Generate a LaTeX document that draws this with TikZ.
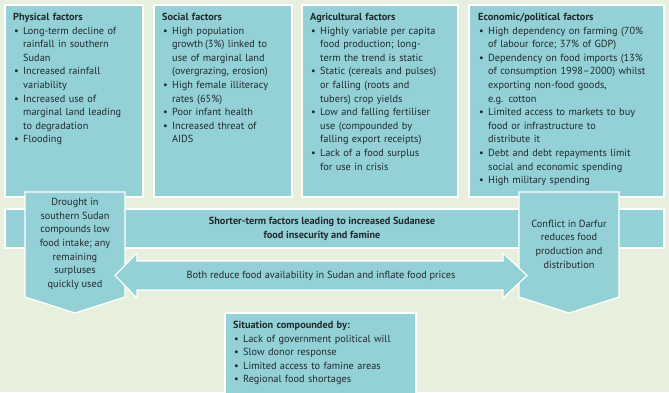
\documentclass[tikz,border=0pt]{standalone}
\usepackage{fontspec}
\setmainfont{PT Sans}
\usepackage{enumitem}
\usetikzlibrary{positioning}
\definecolor{sTeal}{HTML}{93D1D6}
\definecolor{sBg}{HTML}{E6F0DD}
\definecolor{sInk}{HTML}{1F2A2B}
\setlist[itemize]{label=\textbullet, leftmargin=10pt, labelsep=4.5pt,
  itemsep=0pt, topsep=0pt, parsep=0pt, partopsep=0pt}

\begin{document}
\begin{tikzpicture}[x=1pt, y=-1pt,
  every node/.style={font=\fontsize{10.3}{13.6}\selectfont, text=sInk, inner sep=0pt},
  panel/.style={draw=white, line width=1.2pt, fill=sTeal},
  factlist/.style={anchor=north west, text width=#1, align=left},
]
  \useasboundingbox (0,0) rectangle (669,392);
  \fill[sBg] (0,0) rectangle (669,392);

  % Long-term factor panels
  \draw[panel] (5,5) rectangle (143,197);
  \draw[panel] (154,5) rectangle (292,197);
  \draw[panel] (302,5) rectangle (458,197);
  \draw[panel] (469,5) rectangle (664,197);

  \node[factlist=128pt] (phys) at (13,13) {\textbf{Physical factors}\par
    \begin{itemize}
      \item Long-term decline of\\ rainfall in southern\\ Sudan
      \item Increased rainfall\\ variability
      \item Increased use of\\ marginal land leading\\ to degradation
      \item Flooding
    \end{itemize}};
  \node[factlist=135pt] (soc) at (162,13) {\textbf{Social factors}\par
    \begin{itemize}
      \item High population\\ growth\,(3\%) linked to\\ use of marginal land\\ (overgrazing, erosion)
      \item High female illiteracy\\ rates (65\%)
      \item Poor infant health
      \item Increased threat of\\ AIDS
    \end{itemize}};
  \node[factlist=150pt] (agri) at (310,13) {\textbf{Agricultural factors}\par
    \begin{itemize}
      \item Highly variable per capita\\ food production; long-\\term the trend is static
      \item Static (cereals and pulses)\\ or falling (roots and\\ tubers) crop yields
      \item Low and falling fertiliser\\ use (compounded by\\ falling export receipts)
      \item Lack of a food surplus\\ for use in crisis
    \end{itemize}};
  \node[factlist=190pt] (econ) at (478,13) {\textbf{Economic/political factors}\par
    \begin{itemize}
      \item High dependency on farming (70\%\\ of labour force; 37\% of GDP)
      \item Dependency on food imports (13\%\\ of consumption 1998--2000) whilst\\ exporting non-food goods,\\ e.g. cotton
      \item Limited access to markets to buy\\ food or infrastructure to\\ distribute it
      \item Debt and debt repayments limit\\ social and economic spending
      \item High military spending
    \end{itemize}};

  % Shorter-term band
  \draw[panel] (5,209) rectangle (664,248);
  \node[align=center, font=\fontsize{10.3}{13.6}\selectfont\bfseries] (band) at (322,229)
    {Shorter-term factors leading to increased Sudanese\\ food insecurity and famine};

  % Drought and conflict
  \draw[panel] (25,192) -- (125,192) -- (125,297) -- (75,313) -- (25,297) -- cycle;
  \node[align=center] (drought) at (75,244)
    {Drought in\\ southern Sudan\\ compounds low\\ food intake; any\\ remaining\\ surpluses\\ quickly used};
  \draw[panel] (519,192) -- (619,192) -- (619,297) -- (569,313) -- (519,297) -- cycle;
  \node[align=center] (conflict) at (569,244)
    {Conflict in Darfur\\ reduces food\\ production and\\ distribution};

  % Two-way arrow
  \draw[panel] (115,275.5) -- (137,253) -- (137,261) -- (503,261) -- (503,253) -- (527,275.5)
    -- (503,298) -- (503,290) -- (137,290) -- (137,298) -- cycle;
  \node (both) at (321,276) {Both reduce food availability in Sudan and inflate food prices};

  % Compounding situation
  \draw[panel] (225,313) rectangle (416,396);
  \node[factlist=185pt] (situ) at (233,321) {\textbf{Situation compounded by:}\par
    \begin{itemize}
      \item Lack of government political will
      \item Slow donor response
      \item Limited access to famine areas
      \item Regional food shortages
    \end{itemize}};
\end{tikzpicture}
\end{document}
